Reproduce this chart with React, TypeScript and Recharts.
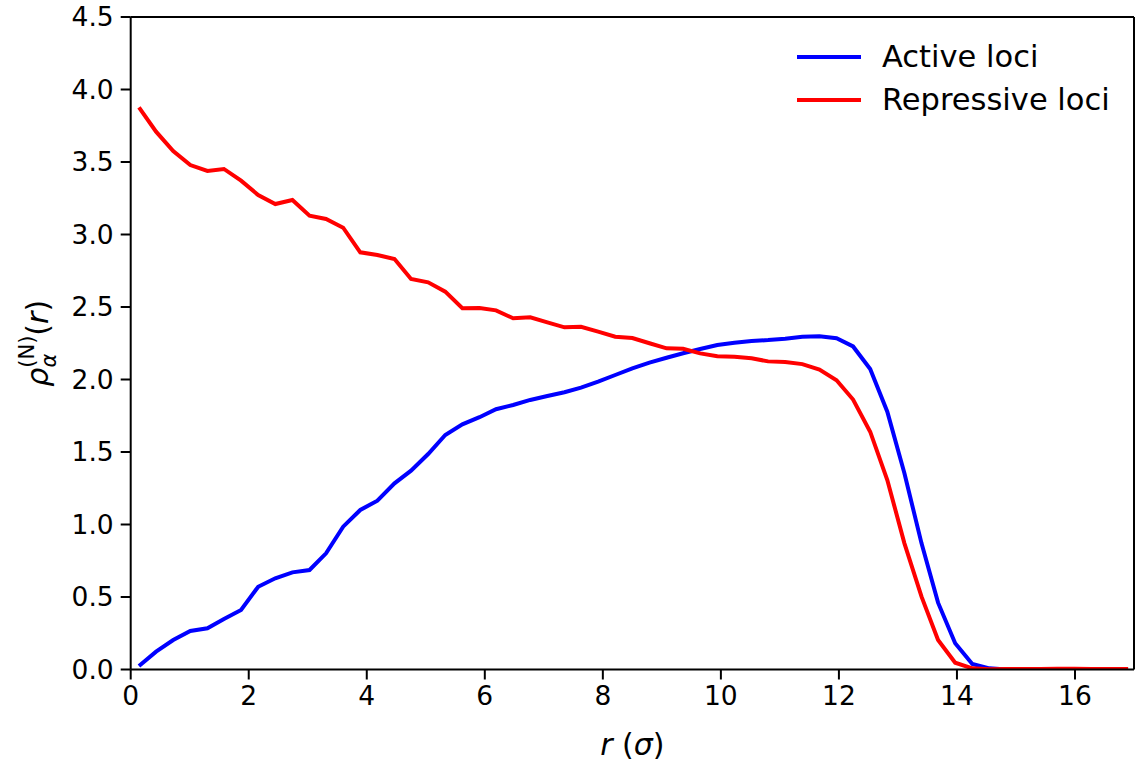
import { Line, LineChart, ReferenceLine, XAxis, YAxis } from 'recharts'

const rValues = [
  0.14, 0.43, 0.72, 1.01, 1.3, 1.58, 1.87, 2.16, 2.45, 2.74, 3.03, 3.31, 3.6, 3.89, 4.18, 4.47, 4.75, 5.04, 5.33, 5.62,
  5.91, 6.19, 6.48, 6.77, 7.06, 7.35, 7.63, 7.92, 8.21, 8.5, 8.79, 9.08, 9.36, 9.65, 9.94, 10.23, 10.52, 10.8, 11.09,
  11.38, 11.67, 11.96, 12.24, 12.53, 12.82, 13.11, 13.4, 13.68, 13.97, 14.26, 14.55, 14.84, 15.12, 15.41, 15.7, 15.99,
  16.28, 16.56, 16.9,
]

const activeLoci = [
  0.024, 0.123, 0.203, 0.266, 0.284, 0.348, 0.41, 0.571, 0.629, 0.67, 0.686, 0.801, 0.985, 1.1, 1.164, 1.284, 1.371,
  1.486, 1.617, 1.691, 1.74, 1.795, 1.824, 1.859, 1.886, 1.912, 1.944, 1.985, 2.031, 2.077, 2.116, 2.15, 2.181, 2.21,
  2.238, 2.254, 2.266, 2.272, 2.281, 2.295, 2.298, 2.284, 2.228, 2.072, 1.778, 1.353, 0.87, 0.461, 0.181, 0.038, 0.008,
  0, 0, 0, 0, 0, 0, 0, 0,
]

const repressiveLoci = [
  3.877, 3.709, 3.576, 3.479, 3.438, 3.452, 3.371, 3.272, 3.21, 3.238, 3.13, 3.107, 3.047, 2.877, 2.859, 2.831, 2.693,
  2.67, 2.606, 2.491, 2.493, 2.477, 2.422, 2.429, 2.394, 2.36, 2.364, 2.33, 2.295, 2.286, 2.25, 2.215, 2.212, 2.18,
  2.16, 2.157, 2.146, 2.125, 2.121, 2.106, 2.068, 1.995, 1.862, 1.64, 1.307, 0.87, 0.502, 0.203, 0.047, 0.008, 0.002,
  0.003, 0.004, 0.004, 0.005, 0.005, 0.004, 0.004, 0.004,
]

const xTicks = [0, 2, 4, 6, 8, 10, 12, 14, 16]
const yTicks = [0, 0.5, 1, 1.5, 2, 2.5, 3, 3.5, 4, 4.5]

const seriesNames = ['Active loci', 'Repressive loci']
const seriesColors = ['#0000ff', '#ff0000']

const FONT = '"DejaVu Sans", sans-serif'

const data = rValues.map((r, i) => ({
  r,
  active: activeLoci[i],
  repressive: repressiveLoci[i],
}))

function XLabel(props: any) {
  const { x, width } = props.viewBox
  return (
    <text x={x + width / 2} y={755} textAnchor="middle" fontSize={30} fontFamily={FONT} fill="#000">
      <tspan fontStyle="italic">r</tspan>
      <tspan> (</tspan>
      <tspan fontStyle="italic">σ</tspan>
      <tspan>)</tspan>
    </text>
  )
}

function YLabel(props: any) {
  const { y, height } = props.viewBox
  const cx = 48
  const cy = y + height / 2
  return (
    <text
      x={cx}
      y={cy}
      transform={`rotate(-90, ${cx}, ${cy})`}
      textAnchor="middle"
      fontSize={30}
      fontFamily={FONT}
      fill="#000"
    >
      <tspan fontStyle="italic">ρ</tspan>
      <tspan fontStyle="italic" fontSize={21} dy={8}>α</tspan>
      <tspan fontSize={21} dx={-14} dy={-22}>(N)</tspan>
      <tspan dy={14}>(</tspan>
      <tspan fontStyle="italic">r</tspan>
      <tspan>)</tspan>
    </text>
  )
}

function LegendBox() {
  return (
    <div style={{ position: 'absolute', left: 797, top: 35, fontFamily: FONT, fontSize: 30.5 }}>
      {seriesNames.map((name, i) => (
        <div key={name} style={{ display: 'flex', alignItems: 'center', height: 43 }}>
          <svg width={64} height={6} style={{ marginRight: 21 }}>
            <line x1={0} y1={3} x2={64} y2={3} stroke={seriesColors[i]} strokeWidth={4} />
          </svg>
          <span style={{ color: '#000', lineHeight: '43px', whiteSpace: 'nowrap' }}>{name}</span>
        </div>
      ))}
    </div>
  )
}

export default function App() {
  return (
    <div style={{ position: 'fixed', left: 0, top: 0, width: 1136, height: 764, background: '#fff' }}>
      <LineChart
        width={1136}
        height={764}
        data={data}
        margin={{ top: 17, right: 2, bottom: 34.5, left: 70.7 }}
      >
        <XAxis
          dataKey="r"
          type="number"
          domain={[0, 17]}
          ticks={xTicks}
          allowDataOverflow
          height={60}
          tickSize={10}
          tickMargin={7}
          axisLine={{ stroke: '#000', strokeWidth: 2 }}
          tickLine={{ stroke: '#000', strokeWidth: 2 }}
          tick={{ fontSize: 26.5, fill: '#000', fontFamily: FONT }}
          label={<XLabel />}
        />
        <YAxis
          type="number"
          domain={[0, 4.5]}
          ticks={yTicks}
          allowDataOverflow
          width={60}
          tickSize={10}
          tickMargin={7}
          tickFormatter={(v: number) => v.toFixed(1)}
          axisLine={{ stroke: '#000', strokeWidth: 2 }}
          tickLine={{ stroke: '#000', strokeWidth: 2 }}
          tick={{ fontSize: 26.5, fill: '#000', fontFamily: FONT }}
          label={<YLabel />}
        />
        <ReferenceLine y={4.5} stroke="#000" strokeWidth={2} />
        <ReferenceLine x={17} stroke="#000" strokeWidth={2} />
        <Line
          dataKey="active"
          name={seriesNames[0]}
          stroke={seriesColors[0]}
          strokeWidth={4}
          dot={false}
          isAnimationActive={false}
        />
        <Line
          dataKey="repressive"
          name={seriesNames[1]}
          stroke={seriesColors[1]}
          strokeWidth={4}
          dot={false}
          isAnimationActive={false}
        />
      </LineChart>
      <LegendBox />
    </div>
  )
}
